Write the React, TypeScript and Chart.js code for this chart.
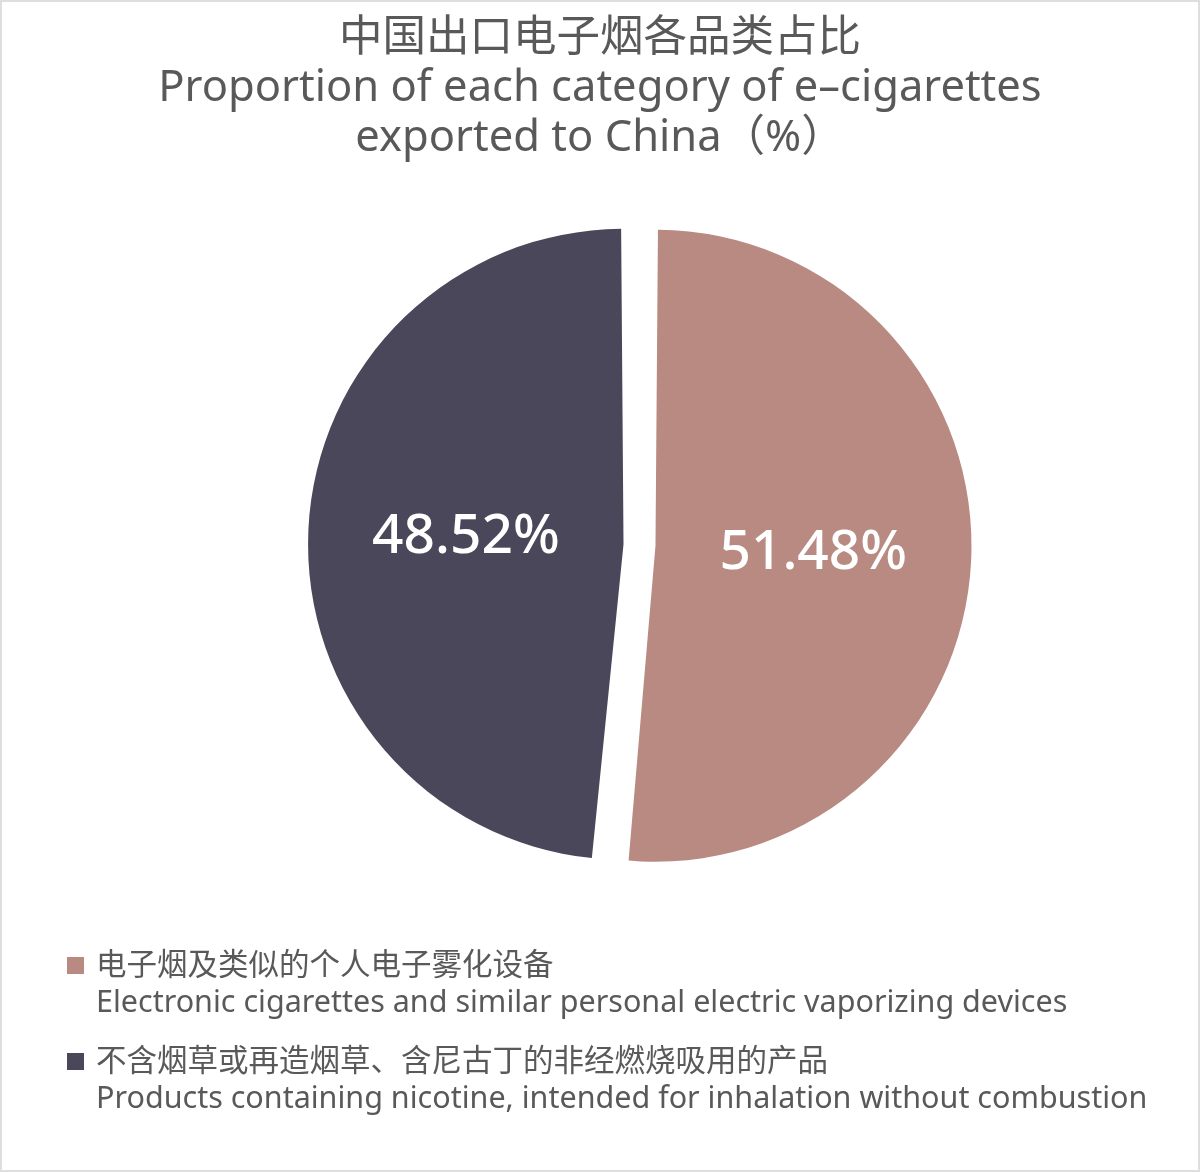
import { Chart, registerables } from 'chart.js';
import { useEffect, useRef } from 'react';

Chart.register(...registerables);

const titleLines = [
  '中国出口电子烟各品类占比',
  'Proportion of each category of e–cigarettes',
  'exported to China（%）',
];

const categoriesZh = [
  '电子烟及类似的个人电子雾化设备',
  '不含烟草或再造烟草、含尼古丁的非经燃烧吸用的产品',
];

const categoriesEn = [
  'Electronic cigarettes and similar personal electric vaporizing devices',
  'Products containing nicotine, intended for inhalation without combustion',
];

const shares = [51.48, 48.52];

const colors = ['#b98a81', '#4a475b'];

// ArcElement moves a slice by offset/4 and grows it by offset/4 * fix
const offsets = [62, 66];

const FONT = '"Noto Sans", "Noto Sans CJK SC", sans-serif';
const TEXT_COLOR = '#595959';

const arcGeometry = (el: any) => {
  const shift = (el.options.offset || 0) / 4;
  const fix = 1 - Math.sin(Math.min(Math.PI, el.circumference || 0));
  return { shift, radius: el.outerRadius + shift * fix };
};

const textPlugin = {
  id: 'textPlugin',
  afterDraw(chart: Chart) {
    const ctx = chart.ctx;
    ctx.save();

    // title
    ctx.fillStyle = TEXT_COLOR;
    ctx.textAlign = 'center';
    ctx.textBaseline = 'middle';
    ctx.font = `43.5px ${FONT}`;
    titleLines.forEach((line, i) => {
      ctx.fillText(line, 600, 39 + i * 50);
    });

    // slice labels
    const meta = chart.getDatasetMeta(0);
    ctx.fillStyle = '#ffffff';
    ctx.font = `500 55px ${FONT}`;
    meta.data.forEach((el: any, i: number) => {
      const mid = (el.startAngle + el.endAngle) / 2;
      const { shift, radius } = arcGeometry(el);
      const dist = shift + radius / 2;
      const x = el.x + Math.cos(mid) * dist;
      const y = el.y + Math.sin(mid) * dist;
      ctx.fillText(shares[i].toFixed(2) + '%', x, y);
    });

    // legend
    ctx.textAlign = 'left';
    ctx.font = `30.5px ${FONT}`;
    categoriesZh.forEach((zh, i) => {
      const top = 957 + i * 96;
      ctx.fillStyle = colors[i];
      ctx.fillRect(67, top, 17, 17);
      ctx.fillStyle = TEXT_COLOR;
      ctx.fillText(zh, 96, top + 9);
      ctx.fillText(categoriesEn[i], 96, top + 46);
    });

    ctx.restore();
  },
};

const App = () => {
  const canvasRef = useRef<HTMLCanvasElement | null>(null);

  useEffect(() => {
    document.body.style.margin = '0';
    if (!canvasRef.current) return;

    const pieChart = new Chart(canvasRef.current, {
      type: 'pie',
      data: {
        labels: categoriesZh,
        datasets: [
          {
            data: shares,
            backgroundColor: colors,
            borderWidth: 0,
            offset: offsets,
          },
        ],
      },
      options: {
        animation: false,
        responsive: false,
        radius: 300.5,
        layout: {
          padding: { left: 80, right: 0, top: 0, bottom: 82 },
        },
        plugins: {
          legend: { display: false },
          title: { display: false },
          tooltip: { enabled: false },
        },
      },
      plugins: [textPlugin],
    });

    return () => {
      pieChart.destroy();
    };
  }, []);

  return (
    <div style={{ position: 'relative', width: 1200, height: 1172, background: '#ffffff' }}>
      <canvas ref={canvasRef} width={1200} height={1172} />
      <div
        style={{
          position: 'absolute',
          inset: 0,
          border: '2px solid #dedede',
          pointerEvents: 'none',
        }}
      />
    </div>
  );
};

export default App;
